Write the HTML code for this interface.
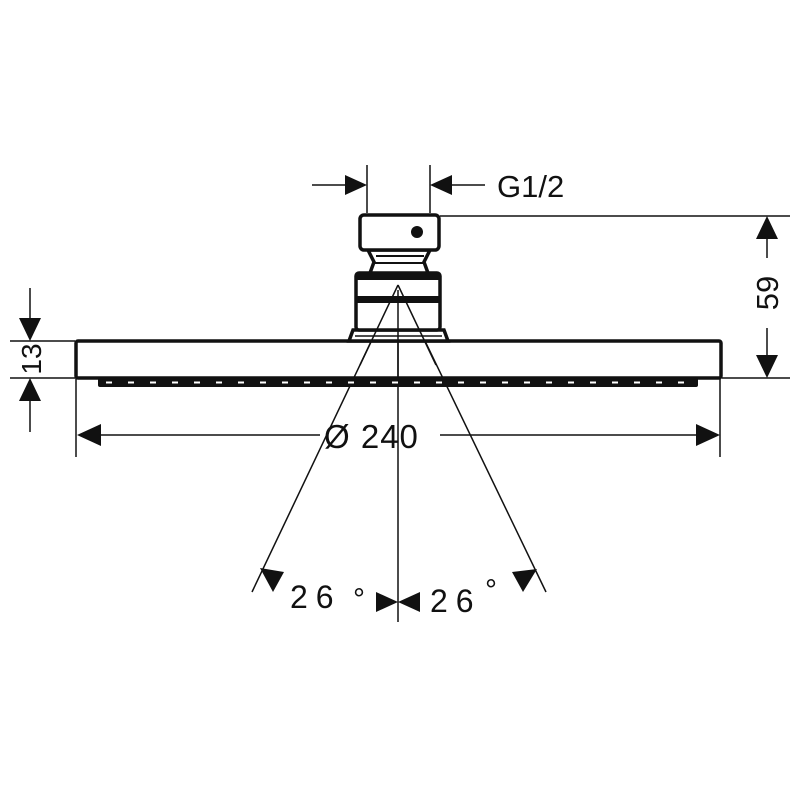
<!DOCTYPE html>
<html><head><style>body{margin:0;background:#fff}svg{display:block}</style></head>
<body>
<svg width="800" height="800" viewBox="0 0 800 800" xmlns="http://www.w3.org/2000/svg" font-family="Liberation Sans, sans-serif">
<g stroke="#111" fill="none" stroke-width="1.5">
<line x1="10" y1="341" x2="75" y2="341"/>
<line x1="10" y1="378" x2="75" y2="378"/>
<line x1="722" y1="378" x2="790" y2="378"/>
<line x1="440" y1="216" x2="790" y2="216"/>
<line x1="76" y1="378" x2="76" y2="457"/>
<line x1="720" y1="378" x2="720" y2="457"/>
<line x1="367" y1="165" x2="367" y2="213"/>
<line x1="430" y1="165" x2="430" y2="213"/>
<line x1="312" y1="185" x2="350" y2="185"/>
<line x1="447" y1="185" x2="485" y2="185"/>
<line x1="30" y1="288" x2="30" y2="320"/>
<line x1="30" y1="400" x2="30" y2="432"/>
<line x1="767" y1="236" x2="767" y2="258"/>
<line x1="767" y1="328" x2="767" y2="358"/>
<line x1="100" y1="435" x2="320" y2="435"/>
<line x1="440" y1="435" x2="697" y2="435"/>
<line x1="398" y1="290" x2="398" y2="622"/>
<line x1="398" y1="285" x2="252" y2="592"/>
<line x1="398" y1="285" x2="546" y2="592"/>
</g>
<g fill="#111">
<polygon points="367,185 345,175 345,195"/>
<polygon points="430,185 452,175 452,195"/>
<polygon points="30,341 19,318 41,318"/>
<polygon points="30,378 19,401 41,401"/>
<polygon points="767,216 756,239 778,239"/>
<polygon points="767,378 756,355 778,355"/>
<polygon points="77,435 101,424 101,446"/>
<polygon points="720,435 696,424 696,446"/>
<polygon points="398,602 376,592 376,612"/>
<polygon points="398,602 420,592 420,612"/>
<polygon points="260,568 284,572 273,592"/>
<polygon points="537,569 512,572 523,592"/>
</g>
<rect x="76" y="341" width="645" height="37" rx="2" fill="none" stroke="#111" stroke-width="3.5"/>
<rect x="98" y="378" width="600" height="9" rx="2" fill="#111"/>
<line x1="106" y1="382.5" x2="698" y2="382.5" stroke="#fff" stroke-width="2" stroke-dasharray="6,16"/>
<g stroke="#111" stroke-width="3.5" fill="#fff">
<path d="M349,341 L353,330 L444,330 L448,341 Z"/>
<rect x="356" y="273" width="84" height="57" rx="3"/>
<path d="M368,250 L374,262 L370,273 L428,273 L424,262 L430,250 Z"/>
<rect x="360" y="215" width="79" height="35" rx="4"/>
</g>
<rect x="356" y="273" width="84" height="7" fill="#111"/>
<rect x="356" y="296" width="84" height="7" fill="#111"/>
<line x1="376" y1="256" x2="424" y2="256" stroke="#111" stroke-width="2"/>
<line x1="374" y1="263" x2="424" y2="263" stroke="#111" stroke-width="2"/>
<line x1="355" y1="336" x2="442" y2="336" stroke="#111" stroke-width="1.5"/>
<circle cx="417" cy="232" r="6" fill="#111"/>
<line x1="398" y1="285" x2="360" y2="365" stroke="#111" stroke-width="1.5"/>
<line x1="398" y1="285" x2="436" y2="365" stroke="#111" stroke-width="1.5"/>
<line x1="398" y1="290" x2="398" y2="378" stroke="#111" stroke-width="1.5"/>
<g fill="#111" font-size="30">
<text x="497" y="197" font-size="31">G1/2</text>
<text x="324" y="448" font-size="33" letter-spacing="1">Ø 240</text>
<text x="290" y="608" letter-spacing="8" font-size="32">26</text>
<text x="353" y="609" font-size="30">°</text>
<text x="430" y="612" letter-spacing="8" font-size="32">26</text>
<text x="485" y="600" font-size="30">°</text>
<text transform="translate(778,293) rotate(-90)" text-anchor="middle" font-size="31">59</text>
<text transform="translate(41,359) rotate(-90)" text-anchor="middle" font-size="28">13</text>
</g>
</svg>
</body></html>
